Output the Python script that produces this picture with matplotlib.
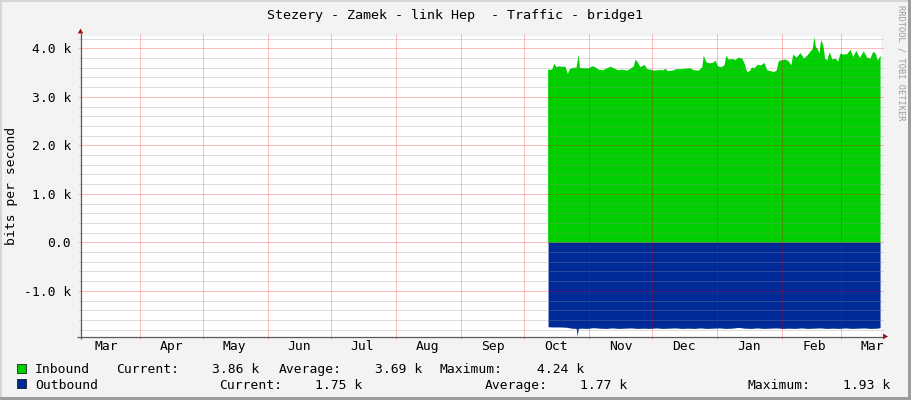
import matplotlib
matplotlib.use("Agg")
import matplotlib.pyplot as plt
import numpy as np
from matplotlib.patches import Rectangle, Polygon

# ---------------- data ----------------
title = "Stezery - Zamek - link Hep  - Traffic - bridge1"
ylabel = "bits per second"
watermark = "RRDTOOL / TOBI OETIKER"

month_labels = ["Mar", "Apr", "May", "Jun", "Jul", "Aug", "Sep",
                "Oct", "Nov", "Dec", "Jan", "Feb", "Mar"]
# days counted from 1 March of the first year
month_start_days = [0, 31, 61, 92, 122, 153, 184, 214, 245, 275, 306, 337, 365]
x_range_days = [3.0, 383.7]

y_range_k = [-1.946, 4.254]
y_major_k = [-1, 0, 1, 2, 3, 4]
y_major_labels = ["-1.0 k", "0.0", "1.0 k", "2.0 k", "3.0 k", "4.0 k"]
y_minor_k = [-1.8, -1.6, -1.4, -1.2, -0.8, -0.6, -0.4, -0.2,
             0.2, 0.4, 0.6, 0.8, 1.2, 1.4, 1.6, 1.8,
             2.2, 2.4, 2.6, 2.8, 3.2, 3.4, 3.6, 3.8, 4.2]

inbound_days = [225.2, 227.1, 228.2, 229.2, 230.3, 231.9, 233.5, 234.6, 235.5, 237.1,
                238.7, 239.8, 240.3, 242.2, 244.6, 246.2, 247.8, 249.3, 251.4, 253.3,
                254.9, 256.5, 258.4, 260.5, 262.9, 264.8, 266.0, 266.8, 267.9, 269.2,
                271.1, 272.4, 274.0, 275.9, 277.9, 280.3, 281.1, 282.2, 284.3, 286.3,
                288.2, 290.6, 292.7, 294.6, 297.0, 297.8, 298.6, 299.3, 300.6, 302.2,
                303.8, 304.9, 306.0, 307.6, 309.2, 310.1, 311.2, 312.9, 314.4, 316.0,
                317.6, 318.7, 320.0, 321.2, 322.4, 323.5, 325.0, 326.7, 328.2, 329.5,
                331.1, 332.7, 334.0, 335.0, 336.7, 338.2, 339.8, 341.0, 341.9, 343.5,
                345.4, 347.0, 348.6, 350.1, 351.2, 351.9, 352.7, 353.6, 354.4, 355.2,
                356.2, 357.1, 358.1, 359.3, 360.5, 362.0, 363.3, 364.4, 366.0, 367.6,
                369.2, 370.5, 372.0, 373.6, 375.5, 377.1, 378.7, 380.0, 381.2, 382.2,
                383.5]
inbound_k = [3.57, 3.57, 3.69, 3.62, 3.64, 3.63, 3.63, 3.48, 3.58, 3.61,
             3.61, 3.88, 3.61, 3.60, 3.60, 3.64, 3.62, 3.57, 3.56, 3.60,
             3.63, 3.60, 3.56, 3.57, 3.55, 3.60, 3.64, 3.78, 3.72, 3.62,
             3.67, 3.58, 3.57, 3.55, 3.56, 3.56, 3.59, 3.54, 3.55, 3.58,
             3.58, 3.59, 3.60, 3.56, 3.55, 3.59, 3.62, 3.86, 3.72, 3.70,
             3.71, 3.76, 3.64, 3.62, 3.66, 3.86, 3.78, 3.79, 3.77, 3.82,
             3.80, 3.70, 3.52, 3.54, 3.62, 3.60, 3.67, 3.66, 3.71, 3.56,
             3.54, 3.52, 3.55, 3.74, 3.77, 3.78, 3.74, 3.66, 3.88, 3.82,
             3.91, 3.80, 3.86, 3.94, 4.00, 4.24, 4.04, 3.99, 3.90, 4.18,
             4.08, 3.80, 3.76, 3.93, 3.78, 3.80, 3.74, 3.90, 3.88, 3.89,
             3.98, 3.83, 3.96, 3.81, 3.95, 3.82, 3.80, 3.94, 3.90, 3.76,
             3.86]

outbound_days = [225.4, 228.0, 231.0, 234.0, 236.5, 238.8, 239.3, 239.8, 241.5, 244.0,
                 247.0, 250.0, 253.0, 256.0, 259.0, 262.0, 265.0, 268.0, 271.0, 274.0,
                 277.0, 280.0, 283.0, 286.0, 289.0, 292.0, 295.0, 298.0, 301.0, 304.0,
                 307.0, 310.0, 313.0, 316.0, 319.0, 322.0, 325.0, 328.0, 331.0, 334.0,
                 337.0, 340.0, 343.0, 346.0, 349.0, 352.0, 355.0, 358.0, 361.0, 364.0,
                 367.0, 370.0, 373.0, 376.0, 379.0, 382.0, 383.5]
outbound_k = [1.74, 1.745, 1.745, 1.75, 1.77, 1.775, 1.93, 1.775, 1.77, 1.775,
              1.76, 1.77, 1.775, 1.765, 1.775, 1.77, 1.765, 1.775, 1.77, 1.775,
              1.765, 1.775, 1.77, 1.765, 1.775, 1.77, 1.775, 1.765, 1.775, 1.77,
              1.765, 1.775, 1.77, 1.755, 1.77, 1.775, 1.765, 1.775, 1.77, 1.765,
              1.775, 1.77, 1.775, 1.765, 1.775, 1.77, 1.765, 1.775, 1.77, 1.775,
              1.765, 1.775, 1.77, 1.765, 1.775, 1.77, 1.76]

legend_rows = [
    ("Inbound", "#00CF00", [("Current:", 116), ("3.86 k", 212), ("Average:", 279),
                            ("3.69 k", 375), ("Maximum:", 440), ("4.24 k", 537)]),
    ("Outbound", "#002A97", [("Current:", 219), ("1.75 k", 315), ("Average:", 485),
                             ("1.77 k", 580), ("Maximum:", 748), ("1.93 k", 843)]),
]

# ---------------- style ----------------
W, H = 911, 400
BG = "#f3f3f3"
MONO = "DejaVu Sans Mono"
FS = 9.4
GRID_MINOR = (0x8F / 255, 0x8F / 255, 0x8F / 255, 0.30)
GRID_MAJOR = (0xF0 / 255, 0.0, 0.0, 0.26)
AXIS_C = "#5a5a5a"
ARROW_C = "#9a1010"

plt.rcParams["font.family"] = MONO

fig = plt.figure(figsize=(W / 100, H / 100), dpi=100, facecolor=BG)

left_px, right_px, top_px, bot_px = 81, 880.5, 36, 336.7
ax = fig.add_axes([left_px / W, 1 - bot_px / H,
                   (right_px - left_px) / W, (bot_px - top_px) / H])
ax.set_facecolor("white")
ax.set_xlim(*x_range_days)
ax.set_ylim(*y_range_k)
for s in ax.spines.values():
    s.set_visible(False)

ax.fill_between(inbound_days, 0, inbound_k, color="#00CF00", lw=0, zorder=1)
ax.fill_between(outbound_days, 0, -np.array(outbound_k), color="#002A97", lw=0, zorder=1)

ext_x = 2.5 / (right_px - left_px)
ext_y = 2.5 / (bot_px - top_px)
ytr = ax.get_yaxis_transform()
xtr = ax.get_xaxis_transform()
gkw = dict(lw=0.72, ls="-", clip_on=False, zorder=2, snap=True)
for v in y_minor_k:
    ax.plot([-ext_x, 1 + ext_x], [v, v], transform=ytr, color=GRID_MINOR, **gkw)
for v in y_major_k:
    ax.plot([-ext_x, 1 + ext_x], [v, v], transform=ytr, color=GRID_MAJOR, **gkw)
for d in month_start_days:
    if x_range_days[0] < d < x_range_days[1]:
        ax.plot([d, d], [-ext_y, 1 + ext_y], transform=xtr, color=GRID_MAJOR, **gkw)

ax.set_yticks(y_major_k)
ax.set_yticklabels(y_major_labels)
ax.set_xticks([d + 15 for d in month_start_days])
ax.set_xticklabels(month_labels)
ax.tick_params(axis="y", length=0, pad=7.2, labelsize=FS)
ax.tick_params(axis="x", length=0, pad=2.5, labelsize=FS)

# ---------------- overlay in pixel coords ----------------
ov = fig.add_axes([0, 0, 1, 1], zorder=10)
ov.set_xlim(0, W)
ov.set_ylim(H, 0)
ov.axis("off")
ov.patch.set_alpha(0)

# frame shading
ov.add_patch(Rectangle((0, 0), W, 2, color="#d6d6d6", lw=0))
ov.add_patch(Rectangle((0, 0), 2, H, color="#d6d6d6", lw=0))
ov.add_patch(Rectangle((W - 3, 0), 3, H, color="#9c9c9c", lw=0))
ov.add_patch(Rectangle((0, H - 3), W, 3, color="#9c9c9c", lw=0))

# axes lines + arrows
ov.plot([80.5, 80.5], [339, 33], color=AXIS_C, lw=0.9, solid_capstyle="butt")
ov.plot([77, 884], [336.5, 336.5], color=AXIS_C, lw=0.9, solid_capstyle="butt")
ov.add_patch(Polygon([[77.8, 33.5], [83.2, 33.5], [80.5, 28.5]], closed=True,
                     color=ARROW_C, lw=0))
ov.add_patch(Polygon([[883, 333.6], [883, 339.4], [888, 336.5]], closed=True,
                     color=ARROW_C, lw=0))

# title, y label, watermark
ov.text(455, 19.3, title, ha="center", va="baseline", fontsize=FS + 0.2, family=MONO)
ov.text(11.5, 186, ylabel, ha="center", va="center", rotation=90, fontsize=FS, family=MONO)
ov.text(901.5, 5, watermark, ha="center", va="top", rotation=270, fontsize=6.2,
        family=MONO, color="#9a9a9a")

# legend
row_baselines = [373.3, 388.6]
for (name, col, items), yb in zip(legend_rows, row_baselines):
    ov.add_patch(Rectangle((17, yb - 9.2), 8.5, 8.5, facecolor=col, edgecolor="black", lw=0.5))
    ov.text(35, yb, name, ha="left", va="baseline", fontsize=FS, family=MONO)
    for txt, xp in items:
        ov.text(xp, yb, txt, ha="left", va="baseline", fontsize=FS, family=MONO)

fig.savefig("out.png", dpi=100, facecolor=BG)
